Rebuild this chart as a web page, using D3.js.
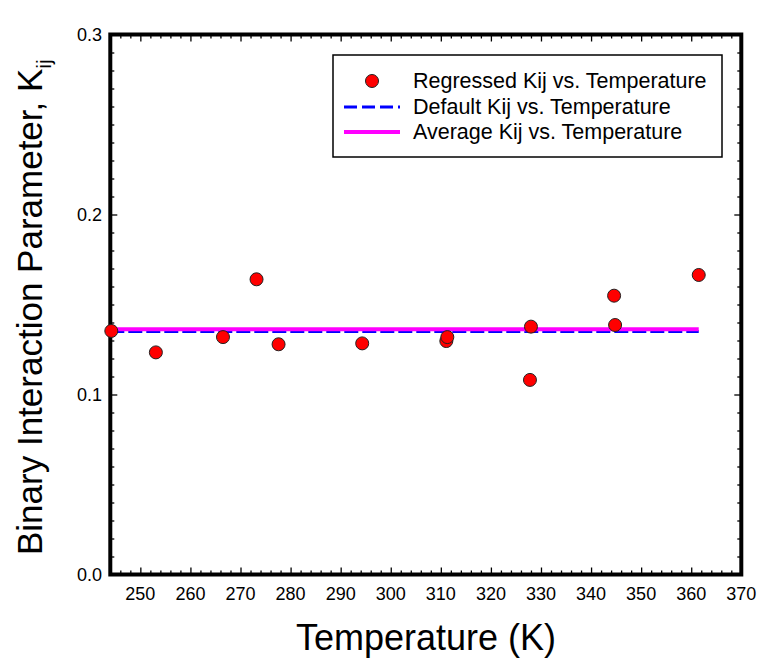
<!DOCTYPE html>
<html><head><meta charset="utf-8">
<script src="https://cdn.jsdelivr.net/npm/d3@7"></script>
<style>body{margin:0;background:#fff}svg{display:block;font-family:"Liberation Sans",Arial,sans-serif}</style>
</head><body>
<svg id="c" width="777" height="661"></svg>
<script>
const temperatures = [244.2, 253.1, 266.5, 273.2, 277.6, 294.3, 311.1, 311.3, 328.0, 327.8, 344.6, 344.8, 361.5];
const regressedKij = [0.1353, 0.1234, 0.1319, 0.1640, 0.1279, 0.1284, 0.1297, 0.1319, 0.1377, 0.1081, 0.1549, 0.1386, 0.1664];
const defaultKij = 0.1350;
const averageKij = 0.1363;
const lineTemps = [244, 361.5];
const xTicks = [250, 260, 270, 280, 290, 300, 310, 320, 330, 340, 350, 360, 370];
const yTicks = [0.0, 0.1, 0.2, 0.3];
const legendLabels = ["Regressed Kij vs. Temperature", "Default Kij vs. Temperature", "Average Kij vs. Temperature"];

const svg = d3.select("#c");
const L = 110.3, R = 741.3, T = 34.5, B = 574.5;
const x = d3.scaleLinear().domain([244, 370]).range([L, R]);
const y = d3.scaleLinear().domain([0, 0.3]).range([B, T]);

// minor ticks
const xMinor = d3.range(246, 370, 2).filter(v => v % 10 !== 0);
const yMinor = d3.range(0.01, 0.3, 0.01).filter(v => Math.abs(v*10 - Math.round(v*10)) > 1e-6);
const tickStyle = g => { g.select(".domain").remove(); g.selectAll("line").attr("stroke", "#000").attr("stroke-width", 1.3); g.selectAll("text").remove(); };

svg.append("g").attr("transform", `translate(0,${B})`).call(d3.axisBottom(x).tickValues(xTicks).tickSize(-7)).call(tickStyle);
svg.append("g").attr("transform", `translate(0,${B})`).call(d3.axisBottom(x).tickValues(xMinor).tickSize(-4)).call(tickStyle);
svg.append("g").attr("transform", `translate(0,${T})`).call(d3.axisTop(x).tickValues(xTicks).tickSize(-7)).call(tickStyle);
svg.append("g").attr("transform", `translate(0,${T})`).call(d3.axisTop(x).tickValues(xMinor).tickSize(-4)).call(tickStyle);
svg.append("g").attr("transform", `translate(${L},0)`).call(d3.axisLeft(y).tickValues(yTicks).tickSize(-7)).call(tickStyle);
svg.append("g").attr("transform", `translate(${L},0)`).call(d3.axisLeft(y).tickValues(yMinor).tickSize(-4)).call(tickStyle);
svg.append("g").attr("transform", `translate(${R},0)`).call(d3.axisRight(y).tickValues(yTicks).tickSize(-7)).call(tickStyle);
svg.append("g").attr("transform", `translate(${R},0)`).call(d3.axisRight(y).tickValues(yMinor).tickSize(-4)).call(tickStyle);

// tick labels
svg.append("g").selectAll("text").data(xTicks).join("text")
  .attr("x", d => x(d)).attr("y", 600).attr("text-anchor", "middle")
  .attr("font-size", 18).text(d => d);
svg.append("g").selectAll("text").data(yTicks).join("text")
  .attr("x", 102).attr("y", d => y(d) + 6).attr("text-anchor", "end")
  .attr("font-size", 18).text(d => d.toFixed(1));

// frame
svg.append("rect").attr("x", L).attr("y", T).attr("width", R - L).attr("height", B - T)
  .attr("fill", "none").attr("stroke", "#000").attr("stroke-width", 4);

// lines
const line = d3.line().x(d => x(d[0])).y(d => y(d[1]));
svg.append("path").datum(lineTemps.map(t => [t, defaultKij])).attr("d", line)
  .attr("stroke", "#0000ff").attr("stroke-width", 3).attr("stroke-dasharray", "14,4").attr("fill", "none");
svg.append("path").datum(lineTemps.map(t => [t, averageKij])).attr("d", line)
  .attr("stroke", "#ff00ff").attr("stroke-width", 4).attr("fill", "none");

// points
svg.append("g").selectAll("circle").data(temperatures.map((t, i) => [t, regressedKij[i]])).join("circle")
  .attr("cx", d => x(d[0])).attr("cy", d => y(d[1])).attr("r", 6.5)
  .attr("fill", "#ff0000").attr("stroke", "#222").attr("stroke-width", 1);

// axis titles
svg.append("text").attr("x", 426).attr("y", 650).attr("text-anchor", "middle")
  .attr("font-size", 36).text("Temperature (K)");
const yt = svg.append("text").attr("transform", "translate(42,555) rotate(-90)")
  .attr("font-size", 35);
yt.append("tspan").text("Binary Interaction Parameter, K");
yt.append("tspan").attr("font-size", 21).attr("dy", 9).text("ij");

// legend
const lg = svg.append("g");
lg.append("rect").attr("x", 333).attr("y", 55).attr("width", 389).attr("height", 102)
  .attr("fill", "#fff").attr("stroke", "#000").attr("stroke-width", 1.5);
const rowsY = [81, 107, 132];
lg.append("circle").attr("cx", 372).attr("cy", rowsY[0]).attr("r", 6.5)
  .attr("fill", "#ff0000").attr("stroke", "#222").attr("stroke-width", 1);
lg.append("line").attr("x1", 344).attr("x2", 400).attr("y1", rowsY[1]).attr("y2", rowsY[1])
  .attr("stroke", "#0000ff").attr("stroke-width", 3).attr("stroke-dasharray", "13,5");
lg.append("line").attr("x1", 344).attr("x2", 400).attr("y1", rowsY[2]).attr("y2", rowsY[2])
  .attr("stroke", "#ff00ff").attr("stroke-width", 4);
lg.selectAll("text.l").data(legendLabels).join("text").attr("class", "l")
  .attr("x", 413).attr("y", (d, i) => rowsY[i] + 7).attr("font-size", 21.5).text(d => d);
</script>
</body></html>
